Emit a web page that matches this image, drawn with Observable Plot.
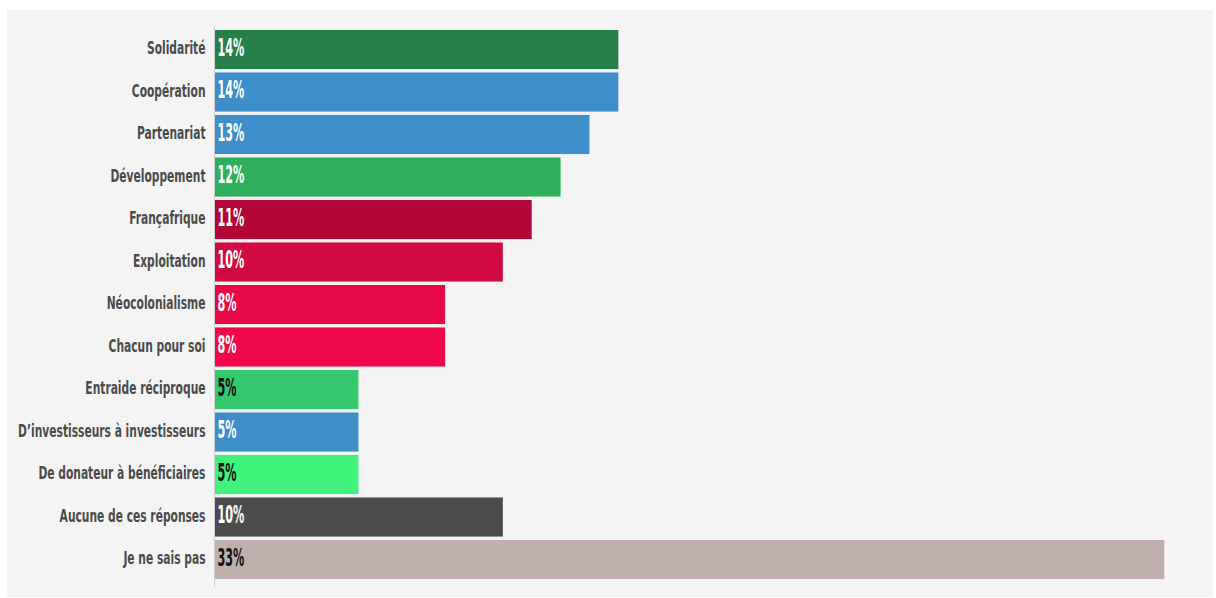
<!DOCTYPE html>
<html>
<head>
<meta charset="utf-8">
<script src="https://cdn.jsdelivr.net/npm/d3@7"></script>
<script src="https://cdn.jsdelivr.net/npm/@observablehq/plot@0.6"></script>
<style>
  html, body { margin: 0; padding: 0; background: #ffffff; }
  #panel { position: absolute; left: 7px; top: 10px; width: 1206px; height: 587px; background: #f4f4f4; }
  #panel svg { display: block; }
</style>
</head>
<body>
<div id="panel"></div>
<script>
const categories = [
  "Solidarité", "Coopération", "Partenariat", "Développement", "Françafrique",
  "Exploitation", "Néocolonialisme", "Chacun pour soi", "Entraide réciproque",
  "D’investisseurs à investisseurs", "De donateur à bénéficiaires",
  "Aucune de ces réponses", "Je ne sais pas"
];
const values = [14, 14, 13, 12, 11, 10, 8, 8, 5, 5, 5, 10, 32.9];
const valueLabels = ["14%", "14%", "13%", "12%", "11%", "10%", "8%", "8%", "5%", "5%", "5%", "10%", "33%"];
const barColors = [
  "#27804a", "#3d8ec9", "#3d8ec9", "#2fae5b", "#b20638", "#d00a43", "#e70848",
  "#f0084b", "#34c96d", "#3d8ec9", "#40f27c", "#4c4c4c", "#bfb0ae"
];
const labelColors = [
  "#ffffff", "#ffffff", "#ffffff", "#ffffff", "#ffffff", "#ffffff", "#ffffff",
  "#ffffff", "#111111", "#ffffff", "#111111", "#ffffff", "#111111"
];

const data = categories.map((c, i) => ({cat: c, value: values[i], label: valueLabels[i]}));

const chart = Plot.plot({
  width: 1206,
  height: 587,
  marginTop: 16,
  marginBottom: 10,
  marginLeft: 207,
  marginRight: 17,
  style: {background: "transparent", color: "#4b4b4b", fontFamily: "'DejaVu Sans Condensed', 'DejaVu Sans', sans-serif", fontWeight: "bold", fontSize: "17px"},
  x: {domain: [0, 34], axis: null},
  y: {domain: categories, paddingInner: 0.08, paddingOuter: 0.14, align: 0.333, round: false, axis: null, label: null},
  color: {domain: categories, range: barColors},
  marks: [
    Plot.text(categories, {
      y: d => d, text: d => d, frameAnchor: "left", dx: -9, dy: -1, textAnchor: "end",
      fill: "#4b4b4b", fontSize: 17, fontWeight: "bold", className: "catlabel"
    }),
    Plot.barX(data, {y: "cat", x: "value", fill: "cat"}),
    Plot.ruleX([0], {stroke: "#cfcfcf", strokeWidth: 1}),
    Plot.text(data, {
      y: "cat", x: 0, text: "label", dx: 3, dy: -2, textAnchor: "start",
      fill: (d, i) => labelColors[i], fontSize: 24, fontWeight: "bold", className: "valuelabel"
    })
  ]
});
document.getElementById("panel").appendChild(chart);

// condense text horizontally to mimic a condensed typeface
function condense(pred, s) {
  d3.select(chart).selectAll("text").each(function () {
    if (!pred(this.textContent)) return;
    const x = +this.getAttribute("x") || 0;
    const y = +this.getAttribute("y") || 0;
    const t = this.getAttribute("transform") || "";
    this.setAttribute("transform", `${t} translate(${x},${y}) scale(${s},1) translate(${-x},${-y})`);
  });
}
condense(s => categories.includes(s), 0.7);
condense(s => valueLabels.includes(s), 0.52);
</script>
</body>
</html>
